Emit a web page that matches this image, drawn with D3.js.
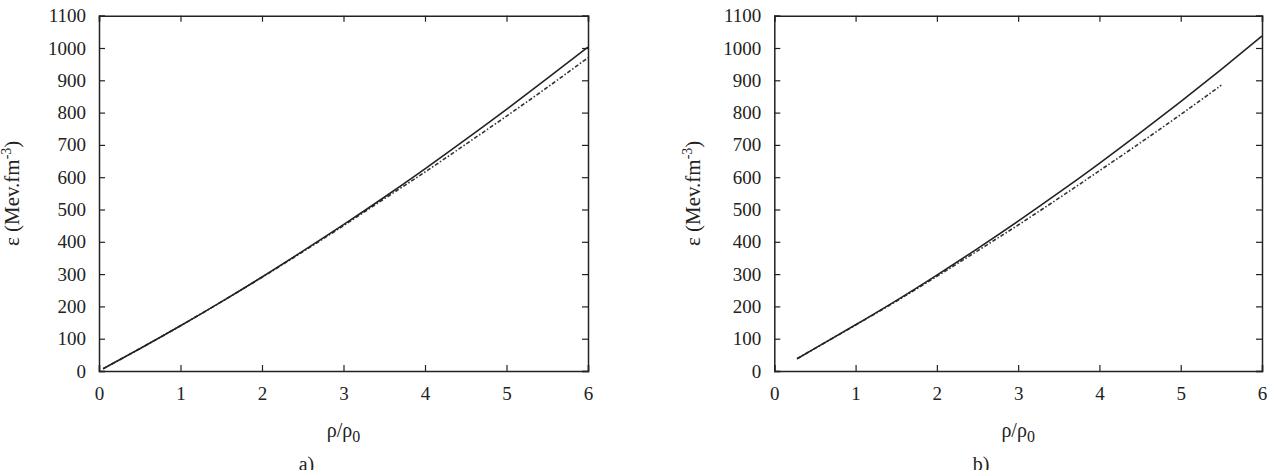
<!DOCTYPE html>
<html>
<head>
<meta charset="utf-8">
<script src="https://cdn.jsdelivr.net/npm/d3@7"></script>
<style>
  body { margin: 0; background: #fff; }
  svg text { font-family: "Times New Roman", "Liberation Serif", "DejaVu Serif", serif !important; fill: #222; }
  .tick line, .domain { stroke: #222; }
</style>
</head>
<body>
<div id="chart"></div>
<script>
// panel a) values
var rhoA = [0.05, 0.5, 1, 1.5, 2, 2.5, 3, 3.5, 4, 4.5, 5, 5.5, 6];
var epsA1 = [7, 69, 140, 214, 291, 371, 453, 538, 626, 717, 810, 906, 1003];
var epsA2 = [7, 69, 140, 214, 290, 369, 450, 533, 616, 702, 789, 878, 970];

// panel b)
var rhoB = [0.28, 0.5, 1, 1.5, 2, 2.5, 3, 3.5, 4, 4.5, 5, 5.5, 6];
var epsB1 = [38, 70, 143, 218, 297, 379, 464, 552, 643, 737, 834, 934, 1037];
var rhoB2 = [0.28, 0.5, 1, 1.5, 2, 2.5, 3, 3.5, 4, 4.5, 5, 5.5];
var epsB2 = [38, 70, 142, 216, 293, 372, 452, 535, 620, 706, 794, 885];

var xTicks = [0, 1, 2, 3, 4, 5, 6];
var yTicks = [0, 100, 200, 300, 400, 500, 600, 700, 800, 900, 1000, 1100];

var serif = "'Times New Roman', 'Liberation Serif', serif";

var svgWidth = 1278, svgHeight = 470;
var svg = d3.select("#chart").append("svg")
  .attr("width", svgWidth)
  .attr("height", svgHeight)
  .attr("font-family", serif);

var top0 = 15.7, bottom0 = 371;

function panel(left, right, series, tag, labelX) {
  var x = d3.scaleLinear().domain([0, 6]).range([left, right]);
  var y = d3.scaleLinear().domain([0, 1100]).range([bottom0, top0]);

  var g = svg.append("g");

  // axes with inward ticks on all four sides
  g.append("g")
    .attr("transform", `translate(0,${bottom0})`)
    .call(d3.axisBottom(x).tickValues(xTicks).tickSize(-6).tickPadding(16).tickFormat(d3.format("d")));
  g.append("g")
    .attr("transform", `translate(0,${top0})`)
    .call(d3.axisTop(x).tickValues(xTicks).tickSize(-6).tickFormat(""));
  g.append("g")
    .attr("transform", `translate(${left},0)`)
    .call(d3.axisLeft(y).tickValues(yTicks).tickSize(-6).tickPadding(13).tickFormat(d3.format("d")));
  g.append("g")
    .attr("transform", `translate(${right},0)`)
    .call(d3.axisRight(y).tickValues(yTicks).tickSize(-6).tickFormat(""));

  g.selectAll(".tick text")
    .attr("font-family", serif)
    .style("font-size", "19px");
  g.selectAll(".domain").attr("stroke-width", 1.5);
  g.selectAll(".tick line").attr("stroke-width", 1.2);

  var line = d3.line()
    .x(d => x(d[0]))
    .y(d => y(d[1]))
    .curve(d3.curveMonotoneX);

  // dash-dot first, solid on top
  g.append("path")
    .datum(d3.zip(series.rho2, series.eps2))
    .attr("d", line)
    .attr("fill", "none")
    .attr("stroke", "#333")
    .attr("stroke-width", 1.6)
    .attr("stroke-dasharray", "4,2,1.5,2");

  g.append("path")
    .datum(d3.zip(series.rho1, series.eps1))
    .attr("d", line)
    .attr("fill", "none")
    .attr("stroke", "#222")
    .attr("stroke-width", 1.6);

  // axis titles
  var xt = g.append("text")
    .attr("x", (left + right) / 2)
    .attr("y", 437)
    .attr("text-anchor", "middle")
    .style("font-size", "20px");
  xt.append("tspan").text("\u03c1/\u03c1");
  xt.append("tspan").attr("dy", 5).style("font-size", "16px").text("0");

  var yt = g.append("text")
    .attr("transform", `translate(${labelX},${(top0 + bottom0) / 2}) rotate(-90)`)
    .attr("text-anchor", "middle")
    .style("font-size", "21px");
  yt.append("tspan").text("\u03b5 (Mev.fm");
  yt.append("tspan").attr("dy", -8).style("font-size", "14px").text("-3");
  yt.append("tspan").attr("dy", 8).text(")");

  g.append("text")
    .attr("x", (left + right) / 2 - 37)
    .attr("y", 471)
    .attr("text-anchor", "middle")
    .style("font-size", "20px")
    .text(tag);
}

panel(99, 588, {rho1: rhoA, eps1: epsA1, rho2: rhoA, eps2: epsA2}, "a)", 19);
panel(774.3, 1262, {rho1: rhoB, eps1: epsB1, rho2: rhoB2, eps2: epsB2}, "b)", 700);
</script>
</body>
</html>
